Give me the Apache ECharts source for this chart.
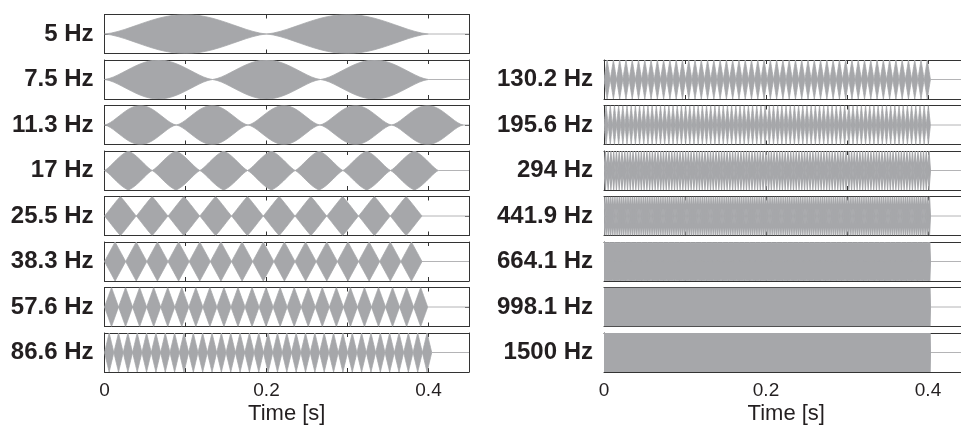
<!DOCTYPE html>
<html>
<head>
<meta charset="utf-8">
<script src="https://cdn.jsdelivr.net/npm/echarts@6/dist/echarts.min.js"></script>
<style>
  html, body { margin: 0; padding: 0; background: #fff; }
  #chart { width: 961px; height: 425px; }
</style>
</head>
<body>
<div id="chart"></div>
<script>
// panel labels (modulation rate), number of envelope lobes and burst end time [s]
const leftLabels = ['5 Hz', '7.5 Hz', '11.3 Hz', '17 Hz', '25.5 Hz', '38.3 Hz', '57.6 Hz', '86.6 Hz'];
const leftLobes = [2, 3, 5, 7, 10, 15, 23, 35];
const leftEnds = [0.400, 0.400, 0.443, 0.412, 0.392, 0.392, 0.399, 0.404];

const rightLabels = ['130.2 Hz', '195.6 Hz', '294 Hz', '441.9 Hz', '664.1 Hz', '998.1 Hz', '1500 Hz'];
const rightLobes = [52, 78, 118, 177, 266, 399, 600];
const rightEnds = [0.403, 0.403, 0.403, 0.403, 0.403, 0.403, 0.403];

const burstStart = 0;
const xTickLabels = ['0', '0.2', '0.4'];
const xTitle = 'Time [s]';

const FONT = "'Liberation Sans', Arial, Helvetica, sans-serif";
const GRAY = '#a6a7aa';
const LINE = '#333';
const X_MAX = 0.45;

// layout
const panelTop = 14.5, panelStep = 45.5, panelH = 39;
const colLeft = [104.5, 604], panelW = 364.5;

const grid = [], xAxis = [], yAxis = [], series = [];

// outline of one modulation cycle (u in 0..1); narrow lobes look like diamonds
function lobeShape(u, px) {
  const round = Math.pow(Math.sin(Math.PI * u), 1.5);
  const tri = 1 - Math.abs(1 - 2 * u);
  const b = Math.min(1, Math.max(0, (68 - px) / 40));
  return (1 - b) * round + b * tri;
}

function addPanel(col, row, label, lobes, end, isBottom) {
  const gi = grid.length;
  grid.push({
    left: colLeft[col], top: panelTop + row * panelStep, width: panelW, height: panelH,
    outerBoundsMode: 'none', containLabel: false
  });

  const axLine = { show: true, onZero: false, lineStyle: { color: LINE, width: 1 } };
  const tick = { show: true, inside: true, length: 4, lineStyle: { color: LINE } };

  xAxis.push({
    gridIndex: gi, type: 'value', min: 0, max: X_MAX, interval: 0.1, position: 'bottom',
    axisLine: axLine, axisTick: tick, splitLine: { show: false },
    axisLabel: {
      show: isBottom, margin: 9, color: '#231f20', fontSize: 19, fontFamily: FONT,
      showMinLabel: true, showMaxLabel: false,
      formatter: v => {
        const s = String(+v.toFixed(2));
        return xTickLabels.indexOf(s) >= 0 ? s : '';
      }
    },
    name: isBottom ? xTitle : '', nameLocation: 'middle', nameGap: 31,
    nameTextStyle: { color: '#231f20', fontSize: 22, fontFamily: FONT }
  });
  xAxis.push({
    gridIndex: gi, type: 'value', min: 0, max: X_MAX, interval: 0.1, position: 'top',
    axisLine: axLine, axisTick: tick, axisLabel: { show: false }, splitLine: { show: false }
  });
  yAxis.push({
    gridIndex: gi, type: 'value', min: -1, max: 1, interval: 1, position: 'left',
    axisLine: axLine, axisTick: tick, splitLine: { show: false },
    axisLabel: {
      margin: 11, color: '#231f20', fontSize: 24, fontWeight: 'bold', fontFamily: FONT,
      formatter: v => (v === 0 ? label : '')
    }
  });
  yAxis.push({
    gridIndex: gi, type: 'value', min: -1, max: 1, interval: 1, position: 'right',
    axisLine: axLine, axisTick: tick, axisLabel: { show: false }, splitLine: { show: false }
  });

  series.push({
    type: 'custom',
    coordinateSystem: 'cartesian2d',
    xAxisIndex: gi * 2, yAxisIndex: gi * 2,
    clip: true,
    silent: true,
    encode: { x: [0, 1] },
    data: [[burstStart, end, lobes]],
    renderItem: (params, api) => {
      const t0 = api.value(0), t1 = api.value(1), n = api.value(2);
      const step = (t1 - t0) / n;
      const px = api.coord([t0 + step, 0])[0] - api.coord([t0, 0])[0];
      const per = n > 100 ? 6 : 24;
      const top = [], bot = [];
      for (let k = 0; k < n; k++) {
        for (let j = (k === 0 ? 0 : 1); j <= per; j++) {
          const u = j / per;
          const a = lobeShape(u, px);
          const t = t0 + (k + u) * step;
          top.push(api.coord([t, a]));
          bot.push(api.coord([t, -a]));
        }
      }
      const p1 = api.coord([t1, 0]), p2 = api.coord([X_MAX, 0]);
      return {
        type: 'group',
        children: [
          { type: 'line', shape: { x1: p1[0], y1: p1[1], x2: p2[0], y2: p2[1] },
            style: { stroke: '#b4b4b6', lineWidth: 1 } },
          { type: 'polygon', shape: { points: top.concat(bot.reverse()) },
            style: { fill: GRAY, stroke: GRAY, lineWidth: n > 100 ? 1.1 : 0.8 } }
        ]
      };
    }
  });
}

leftLabels.forEach((lab, i) => addPanel(0, i, lab, leftLobes[i], leftEnds[i], i === leftLabels.length - 1));
rightLabels.forEach((lab, i) => addPanel(1, i + 1, lab, rightLobes[i], rightEnds[i], i === rightLabels.length - 1));

const chart = echarts.init(document.getElementById('chart'), null, { renderer: 'canvas' });
chart.setOption({
  animation: false,
  backgroundColor: '#fff',
  grid, xAxis, yAxis, series
});
</script>
</body>
</html>
